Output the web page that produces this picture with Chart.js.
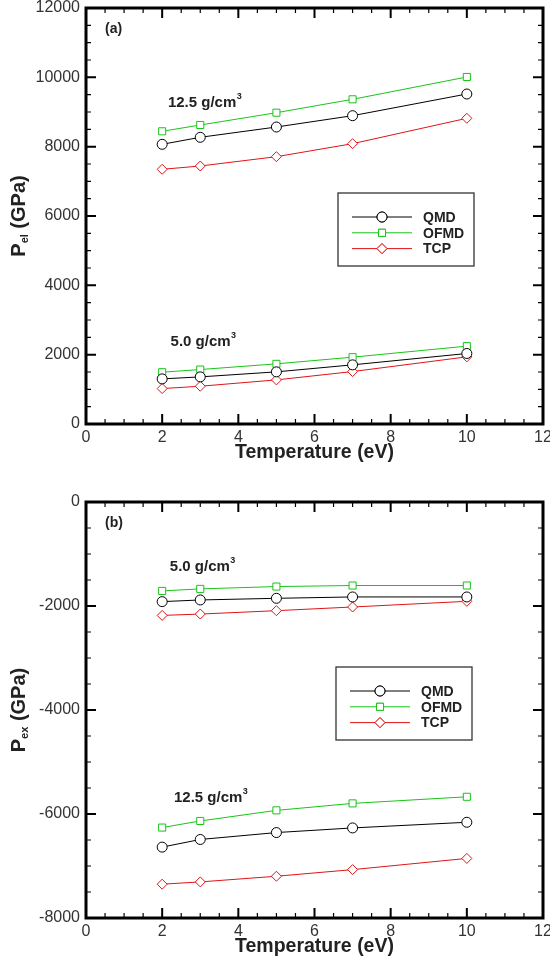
<!DOCTYPE html>
<html>
<head>
<meta charset="utf-8">
<script src="https://cdn.jsdelivr.net/npm/chart.js@4"></script>
<style>
  html, body { margin: 0; padding: 0; background: #fff; }
  #wrap { position: relative; width: 550px; height: 962px; }
  canvas { position: absolute; left: 0; }
  #chartA { top: 0; }
  #chartB { top: 481px; }
</style>
</head>
<body>
<div id="wrap">
  <canvas id="chartA" width="550" height="481"></canvas>
  <canvas id="chartB" width="550" height="481"></canvas>
</div>
<script>
// Temperatures (eV)
const temps = [2, 3, 5, 7, 10];

// (a) electronic pressure, GPa
const qmdEl125  = [8068, 8270, 8567, 8894, 9519];
const ofmdEl125 = [8443, 8625, 8980, 9366, 10010];
const tcpEl125  = [7347, 7442, 7711, 8086, 8818];
const qmdEl50   = [1301, 1359, 1504, 1706, 2034];
const ofmdEl50  = [1494, 1571, 1735, 1928, 2246];
const tcpEl50   = [1022, 1089, 1272, 1513, 1937];

// (b) excess pressure, GPa
const qmdEx50   = [-1916, -1884, -1852, -1826, -1826];
const ofmdEx50  = [-1710, -1671, -1626, -1606, -1606];
const tcpEx50   = [-2181, -2155, -2090, -2019, -1910];
const qmdEx125  = [-6637, -6490, -6357, -6268, -6159];
const ofmdEx125 = [-6261, -6134, -5930, -5796, -5669];
const tcpEx125  = [-7350, -7306, -7197, -7070, -6854];

const seriesNames = ['QMD', 'OFMD', 'TCP'];

const FONT = '"Liberation Sans", Arial, Helvetica, sans-serif';
const styles = {
    QMD:  { color: '#000000', pointStyle: 'circle', radius: 5 },
    OFMD: { color: '#18c418', pointStyle: 'rect', radius: 5 },
    TCP:  { color: '#e01414', pointStyle: 'rectRot', radius: 5 }
};

function makeDataset(name, values) {
    const s = styles[name];
    return {
        label: name,
        data: values.map((v, i) => ({ x: temps[i], y: v })),
        borderColor: s.color,
        borderWidth: 1,
        backgroundColor: '#fff',
        pointStyle: s.pointStyle,
        pointRadius: s.radius,
        pointBorderColor: s.color,
        pointBackgroundColor: '#fff',
        pointBorderWidth: 1,
        tension: 0
    };
}

// text with superscript helper
function drawSup(ctx, text, sup, x, y, size) {
    ctx.font = 'bold ' + size + 'px ' + FONT;
    ctx.textBaseline = 'middle';
    ctx.textAlign = 'left';
    ctx.fillStyle = '#222';
    ctx.fillText(text, x, y);
    if (sup) {
        const w = ctx.measureText(text).width;
        ctx.font = 'bold ' + Math.round(size * 0.6) + 'px ' + FONT;
        ctx.fillText(sup, x + w + 0.5, y - size * 0.4);
    }
}

// frame with inward ticks on all four sides
const framePlugin = {
    id: 'frame',
    afterDatasetsDraw(chart) {
        const { ctx, chartArea: a, scales: { x, y } } = chart;
        ctx.save();
        ctx.strokeStyle = '#000';
        for (let v = x.min; v <= x.max + 1e-9; v += 0.5) {
            const px = x.getPixelForValue(v);
            const major = Math.abs(v / 2 - Math.round(v / 2)) < 1e-6;
            const len = major ? 10 : 5;
            ctx.lineWidth = major ? 2 : 1.2;
            ctx.beginPath();
            ctx.moveTo(px, a.bottom); ctx.lineTo(px, a.bottom - len);
            ctx.moveTo(px, a.top); ctx.lineTo(px, a.top + len);
            ctx.stroke();
        }
        for (let v = y.min; v <= y.max + 1e-9; v += 500) {
            const py = y.getPixelForValue(v);
            const major = Math.abs(v / 2000 - Math.round(v / 2000)) < 1e-6;
            const len = major ? 10 : 5;
            ctx.lineWidth = major ? 2 : 1.2;
            ctx.beginPath();
            ctx.moveTo(a.left, py); ctx.lineTo(a.left + len, py);
            ctx.moveTo(a.right, py); ctx.lineTo(a.right - len, py);
            ctx.stroke();
        }
        ctx.lineWidth = 3;
        ctx.strokeRect(a.left, a.top, a.right - a.left, a.bottom - a.top);
        ctx.restore();
    },
    afterDraw(chart, args, opts) {
        const { ctx, chartArea: a, scales: { x, y } } = chart;
        ctx.save();
        // axis titles
        ctx.fillStyle = '#222';
        ctx.font = 'bold 19.5px ' + FONT;
        ctx.textAlign = 'center';
        ctx.textBaseline = 'middle';
        ctx.fillText('Temperature (eV)', (a.left + a.right) / 2, a.bottom + 29);

        ctx.save();
        ctx.translate(19, (a.top + a.bottom) / 2);
        ctx.rotate(-Math.PI / 2);
        ctx.font = 'bold 20px ' + FONT;
        const wP = ctx.measureText('P').width;
        const rest = ' (GPa)';
        const wRest = ctx.measureText(rest).width;
        ctx.font = 'bold 11px ' + FONT;
        const wSub = ctx.measureText(opts.sub).width;
        const total = wP + wSub + wRest;
        let cx = -total / 2;
        ctx.textAlign = 'left';
        ctx.font = 'bold 20px ' + FONT;
        ctx.fillText('P', cx, 0);
        cx += wP;
        ctx.font = 'bold 11px ' + FONT;
        ctx.fillText(opts.sub, cx, 6);
        cx += wSub;
        ctx.font = 'bold 20px ' + FONT;
        ctx.fillText(rest, cx, 0);
        ctx.restore();

        // annotations
        opts.notes.forEach(n => {
            drawSup(ctx, n.text, n.sup, x.getPixelForValue(n.x), y.getPixelForValue(n.y), n.size);
        });

        // legend box
        const bx = a.left + opts.legend.dx, by = a.top + opts.legend.dy;
        ctx.strokeStyle = '#333';
        ctx.lineWidth = 1.3;
        ctx.strokeRect(bx, by, 136, 73);
        seriesNames.forEach((name, i) => {
            const s = styles[name];
            const ly = by + 24 + i * 15.8;
            ctx.strokeStyle = s.color;
            ctx.lineWidth = 1;
            ctx.beginPath();
            ctx.moveTo(bx + 14, ly); ctx.lineTo(bx + 74, ly);
            ctx.stroke();
            ctx.fillStyle = '#fff';
            Chart.helpers.drawPoint(ctx, {
                pointStyle: s.pointStyle, radius: s.radius, rotation: 0, borderWidth: 1
            }, bx + 44, ly);
            ctx.fill();
            ctx.stroke();
            ctx.fillStyle = '#222';
            ctx.font = 'bold 14px ' + FONT;
            ctx.textAlign = 'left';
            ctx.textBaseline = 'middle';
            ctx.fillText(name, bx + 85, ly + 1);
        });
        ctx.restore();
    }
};

function makeChart(id, datasets, yMin, yMax, padTop, xHeight, opts) {
    return new Chart(document.getElementById(id), {
        type: 'line',
        data: { datasets },
        plugins: [framePlugin],
        options: {
            responsive: false,
            animation: false,
            devicePixelRatio: 1,
            layout: { padding: { left: 0, top: padTop, right: 7, bottom: 0 } },
            plugins: {
                legend: { display: false },
                tooltip: { enabled: false },
                frame: opts
            },
            scales: {
                x: {
                    type: 'linear', min: 0, max: 12,
                    grid: { display: false, drawTicks: false },
                    border: { display: false },
                    ticks: {
                        stepSize: 2, padding: 4, color: '#333',
                        font: { family: FONT, size: 16 },
                        callback: v => String(v)
                    },
                    afterFit: s => {
                        s.height = xHeight;
                        s.paddingLeft = 0; s.paddingRight = 0;
                    }
                },
                y: {
                    min: yMin, max: yMax,
                    grid: { display: false, drawTicks: false },
                    border: { display: false },
                    ticks: {
                        stepSize: 2000, padding: 6, color: '#333',
                        font: { family: FONT, size: 16 },
                        callback: v => String(v)
                    },
                    afterFit: s => {
                        s.width = 86;
                        s.paddingTop = 0; s.paddingBottom = 0;
                    }
                }
            }
        }
    });
}

makeChart('chartA', [
    makeDataset('QMD', qmdEl125), makeDataset('OFMD', ofmdEl125), makeDataset('TCP', tcpEl125),
    makeDataset('QMD', qmdEl50), makeDataset('OFMD', ofmdEl50), makeDataset('TCP', tcpEl50)
], 0, 12000, 8, 57, {
    sub: 'el',
    legend: { dx: 252, dy: 185 },
    notes: [
        { text: '(a)', sup: '', x: 0.5, y: 11400, size: 14 },
        { text: '12.5 g/cm', sup: '3', x: 2.15, y: 9260, size: 15 },
        { text: '5.0 g/cm', sup: '3', x: 2.22, y: 2374, size: 15 }
    ]
});

makeChart('chartB', [
    makeDataset('QMD', qmdEx50), makeDataset('OFMD', ofmdEx50), makeDataset('TCP', tcpEx50),
    makeDataset('QMD', qmdEx125), makeDataset('OFMD', ofmdEx125), makeDataset('TCP', tcpEx125)
], -8000, 0, 21, 44, {
    sub: 'ex',
    legend: { dx: 250, dy: 165 },
    notes: [
        { text: '(b)', sup: '', x: 0.5, y: -400, size: 14 },
        { text: '5.0 g/cm', sup: '3', x: 2.2, y: -1244, size: 15 },
        { text: '12.5 g/cm', sup: '3', x: 2.31, y: -5692, size: 15 }
    ]
});
</script>
</body>
</html>
